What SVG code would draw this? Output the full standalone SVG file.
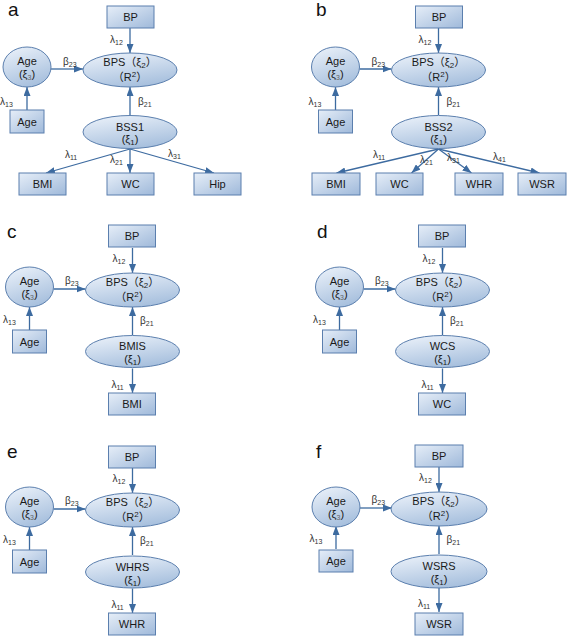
<svg xmlns="http://www.w3.org/2000/svg" width="567" height="638" viewBox="0 0 567 638">
<defs>
  <linearGradient id="gBox" x1="0" y1="0" x2="1" y2="1">
    <stop offset="0" stop-color="#e6eef8"/>
    <stop offset="1" stop-color="#9fb9da"/>
  </linearGradient>
  <linearGradient id="gEll" x1="0.2" y1="0" x2="0.6" y2="1">
    <stop offset="0" stop-color="#e9f0f9"/>
    <stop offset="1" stop-color="#a6bfdd"/>
  </linearGradient>
  <marker id="arr" markerUnits="userSpaceOnUse" markerWidth="9" markerHeight="7" viewBox="0 0 9 7" refX="9" refY="3.5" orient="auto">
    <path d="M0,0 L9,3.5 L0,7 Z" fill="#3d6ba0"/>
  </marker>
</defs>
<style>
  .box { fill:url(#gBox); stroke:#5b7fae; stroke-width:1; }
  .ell { fill:url(#gEll); stroke:#5b7fae; stroke-width:1; }
  text { font-family:"Liberation Sans","Noto Sans CJK SC",sans-serif; }
  .t { font-size:11px; fill:#1a1a1a; text-anchor:middle; }
  .lab { font-size:10px; fill:#333; }
  .pl { font-size:19px; fill:#111; }
  .conn line { stroke:#3d6ba0; stroke-width:1.3; marker-end:url(#arr); }
</style>
<rect width="567" height="638" fill="#ffffff"/>

<text class="pl" x="8" y="16">a</text>
<text class="pl" x="316" y="16">b</text>
<text class="pl" x="7" y="238">c</text>
<text class="pl" x="317" y="238">d</text>
<text class="pl" x="7" y="458">e</text>
<text class="pl" x="316" y="458">f</text>

<!-- Panel a -->
<g id="panel-a">
  <g id="a-connectors" class="conn">
    <line x1="130" y1="28" x2="130" y2="53"/>
    <line x1="51" y1="69" x2="83" y2="69"/>
    <line x1="27" y1="110" x2="27" y2="87"/>
    <line x1="130" y1="115" x2="130" y2="87"/>
    <line x1="130" y1="149" x2="46" y2="173"/>
    <line x1="130" y1="149" x2="130" y2="173"/>
    <line x1="130" y1="149" x2="214" y2="173"/>
  </g>
  <g id="a-labels">
    <text class="lab" x="110" y="43">λ<tspan font-size="7" dy="2">12</tspan></text>
    <text class="lab" x="63" y="65">β<tspan font-size="7" dy="2">23</tspan></text>
    <text class="lab" x="0" y="105">λ<tspan font-size="7" dy="2">13</tspan></text>
    <text class="lab" x="138" y="105">β<tspan font-size="7" dy="2">21</tspan></text>
    <text class="lab" x="65" y="158">λ<tspan font-size="7" dy="2">11</tspan></text>
    <text class="lab" x="110" y="163">λ<tspan font-size="7" dy="2">21</tspan></text>
    <text class="lab" x="168" y="157">λ<tspan font-size="7" dy="2">31</tspan></text>
  </g>
  <g id="a-BP"><rect class="box" x="107" y="6" width="47" height="22"/><text class="t" x="130.5" y="21">BP</text></g>
  <g id="a-BPS"><ellipse class="ell" cx="130" cy="70" rx="47" ry="17"/><text class="t" x="130" y="66">BPS（ξ<tspan font-size="8" dy="2">2</tspan><tspan dy="-2">）</tspan></text><text class="t" x="130" y="81">（R<tspan font-size="8" dy="-4">2</tspan><tspan dy="4">）</tspan></text></g>
  <g id="a-AgeLatent"><ellipse class="ell" cx="27" cy="67" rx="24" ry="20"/><text class="t" x="27" y="65">Age</text><text class="t" x="27" y="78">(ξ<tspan font-size="7" dy="2" fill="#666">3</tspan><tspan dy="-2">)</tspan></text></g>
  <g id="a-Age"><rect class="box" x="10" y="110" width="34" height="23"/><text class="t" x="27" y="125.5">Age</text></g>
  <g id="a-BSS1"><ellipse class="ell" cx="130" cy="132" rx="47" ry="16.5"/><text class="t" x="130" y="131">BSS1</text><text class="t" x="130" y="143">(ξ<tspan font-size="8" dy="2">1</tspan><tspan dy="-2">)</tspan></text></g>
  <g id="a-BMI"><rect class="box" x="19" y="173" width="47" height="22"/><text class="t" x="42.5" y="188">BMI</text></g>
  <g id="a-WC"><rect class="box" x="107" y="173" width="47" height="22"/><text class="t" x="130.5" y="188">WC</text></g>
  <g id="a-Hip"><rect class="box" x="194" y="173" width="47" height="22"/><text class="t" x="217.5" y="188">Hip</text></g>
</g>

<!-- Panel b -->
<g id="panel-b" transform="translate(308.5,0)">
  <g id="b-connectors" class="conn">
    <line x1="130" y1="28" x2="130" y2="53"/>
    <line x1="51" y1="69" x2="83" y2="69"/>
    <line x1="27" y1="110" x2="27" y2="87"/>
    <line x1="130" y1="115" x2="130" y2="87"/>
    <line x1="130" y1="149" x2="28" y2="173"/>
    <line x1="130" y1="149" x2="103" y2="173"/>
    <line x1="130" y1="149" x2="163" y2="173"/>
    <line x1="130" y1="149" x2="231" y2="173"/>
  </g>
  <g id="b-labels">
    <text class="lab" x="110" y="43">λ<tspan font-size="7" dy="2">12</tspan></text>
    <text class="lab" x="63" y="65">β<tspan font-size="7" dy="2">23</tspan></text>
    <text class="lab" x="0" y="105">λ<tspan font-size="7" dy="2">13</tspan></text>
    <text class="lab" x="138" y="105">β<tspan font-size="7" dy="2">21</tspan></text>
    <text class="lab" x="64.5" y="158">λ<tspan font-size="7" dy="2">11</tspan></text>
    <text class="lab" x="111.5" y="163">λ<tspan font-size="7" dy="2">21</tspan></text>
    <text class="lab" x="138.5" y="161">λ<tspan font-size="7" dy="2">31</tspan></text>
    <text class="lab" x="184.5" y="160">λ<tspan font-size="7" dy="2">41</tspan></text>
  </g>
  <g id="b-BP"><rect class="box" x="107" y="6" width="47" height="22"/><text class="t" x="130.5" y="21">BP</text></g>
  <g id="b-BPS"><ellipse class="ell" cx="130" cy="70" rx="47" ry="17"/><text class="t" x="130" y="66">BPS（ξ<tspan font-size="8" dy="2">2</tspan><tspan dy="-2">）</tspan></text><text class="t" x="130" y="81">（R<tspan font-size="8" dy="-4">2</tspan><tspan dy="4">）</tspan></text></g>
  <g id="b-AgeLatent"><ellipse class="ell" cx="27" cy="67" rx="24" ry="20"/><text class="t" x="27" y="65">Age</text><text class="t" x="27" y="78">(ξ<tspan font-size="7" dy="2" fill="#666">3</tspan><tspan dy="-2">)</tspan></text></g>
  <g id="b-Age"><rect class="box" x="10" y="110" width="34" height="23"/><text class="t" x="27" y="125.5">Age</text></g>
  <g id="b-BSS2"><ellipse class="ell" cx="130" cy="132" rx="47" ry="16.5"/><text class="t" x="130" y="131">BSS2</text><text class="t" x="130" y="143">(ξ<tspan font-size="8" dy="2">1</tspan><tspan dy="-2">)</tspan></text></g>
  <g id="b-BMI"><rect class="box" x="3.5" y="173" width="48" height="22"/><text class="t" x="27.5" y="188">BMI</text></g>
  <g id="b-WC"><rect class="box" x="67.5" y="173" width="47" height="22"/><text class="t" x="91" y="188">WC</text></g>
  <g id="b-WHR"><rect class="box" x="146.5" y="173" width="48" height="22"/><text class="t" x="170.5" y="188">WHR</text></g>
  <g id="b-WSR"><rect class="box" x="209.5" y="173" width="48" height="22"/><text class="t" x="233.5" y="188">WSR</text></g>
</g>

<!-- Panel c -->
<g id="panel-c" transform="translate(2.5,220)">
  <g id="c-connectors" class="conn">
    <line x1="130" y1="28" x2="130" y2="53"/>
    <line x1="51" y1="69" x2="83" y2="69"/>
    <line x1="27" y1="110" x2="27" y2="87"/>
    <line x1="130" y1="115" x2="130" y2="87"/>
    <line x1="130" y1="148.5" x2="130" y2="173"/>
  </g>
  <g id="c-labels">
    <text class="lab" x="110" y="42">λ<tspan font-size="7" dy="2">12</tspan></text>
    <text class="lab" x="62.5" y="64">β<tspan font-size="7" dy="2">23</tspan></text>
    <text class="lab" x="0.5" y="103">λ<tspan font-size="7" dy="2">13</tspan></text>
    <text class="lab" x="137.5" y="104">β<tspan font-size="7" dy="2">21</tspan></text>
    <text class="lab" x="109" y="168">λ<tspan font-size="7" dy="2">11</tspan></text>
  </g>
  <g id="c-BP"><rect class="box" x="106" y="5" width="47" height="22"/><text class="t" x="129.5" y="20">BP</text></g>
  <g id="c-BPS"><ellipse class="ell" cx="130" cy="70" rx="47" ry="17"/><text class="t" x="130" y="66">BPS（ξ<tspan font-size="8" dy="2">2</tspan><tspan dy="-2">）</tspan></text><text class="t" x="130" y="81">（R<tspan font-size="8" dy="-4">2</tspan><tspan dy="4">）</tspan></text></g>
  <g id="c-AgeLatent"><ellipse class="ell" cx="27" cy="67" rx="24" ry="20"/><text class="t" x="27" y="65">Age</text><text class="t" x="27" y="78">(ξ<tspan font-size="7" dy="2" fill="#666">3</tspan><tspan dy="-2">)</tspan></text></g>
  <g id="c-Age"><rect class="box" x="10" y="110" width="34" height="23"/><text class="t" x="27" y="125.5">Age</text></g>
  <g id="c-BMIS"><ellipse class="ell" cx="130" cy="131.5" rx="47" ry="16"/><text class="t" x="130" y="130">BMIS</text><text class="t" x="130" y="143">(ξ<tspan font-size="8" dy="2">1</tspan><tspan dy="-2">)</tspan></text></g>
  <g id="c-BMI"><rect class="box" x="106" y="173" width="47" height="22"/><text class="t" x="129.5" y="188">BMI</text></g>
</g>

<!-- Panel d -->
<g id="panel-d" transform="translate(312.5,220)">
  <g id="d-connectors" class="conn">
    <line x1="130" y1="28" x2="130" y2="53"/>
    <line x1="51" y1="69" x2="83" y2="69"/>
    <line x1="27" y1="110" x2="27" y2="87"/>
    <line x1="130" y1="115" x2="130" y2="87"/>
    <line x1="130" y1="148.5" x2="130" y2="173"/>
  </g>
  <g id="d-labels">
    <text class="lab" x="110" y="42">λ<tspan font-size="7" dy="2">12</tspan></text>
    <text class="lab" x="62.5" y="64">β<tspan font-size="7" dy="2">23</tspan></text>
    <text class="lab" x="0.5" y="103">λ<tspan font-size="7" dy="2">13</tspan></text>
    <text class="lab" x="137.5" y="104">β<tspan font-size="7" dy="2">21</tspan></text>
    <text class="lab" x="109" y="168">λ<tspan font-size="7" dy="2">11</tspan></text>
  </g>
  <g id="d-BP"><rect class="box" x="106" y="5" width="47" height="22"/><text class="t" x="129.5" y="20">BP</text></g>
  <g id="d-BPS"><ellipse class="ell" cx="130" cy="70" rx="47" ry="17"/><text class="t" x="130" y="66">BPS（ξ<tspan font-size="8" dy="2">2</tspan><tspan dy="-2">）</tspan></text><text class="t" x="130" y="81">（R<tspan font-size="8" dy="-4">2</tspan><tspan dy="4">）</tspan></text></g>
  <g id="d-AgeLatent"><ellipse class="ell" cx="27" cy="67" rx="24" ry="20"/><text class="t" x="27" y="65">Age</text><text class="t" x="27" y="78">(ξ<tspan font-size="7" dy="2" fill="#666">3</tspan><tspan dy="-2">)</tspan></text></g>
  <g id="d-Age"><rect class="box" x="10" y="110" width="34" height="23"/><text class="t" x="27" y="125.5">Age</text></g>
  <g id="d-WCS"><ellipse class="ell" cx="130" cy="131.5" rx="47" ry="16"/><text class="t" x="130" y="130">WCS</text><text class="t" x="130" y="143">(ξ<tspan font-size="8" dy="2">1</tspan><tspan dy="-2">)</tspan></text></g>
  <g id="d-WC"><rect class="box" x="106" y="173" width="47" height="22"/><text class="t" x="129.5" y="188">WC</text></g>
</g>

<!-- Panel e -->
<g id="panel-e" transform="translate(2.5,440)">
  <g id="e-connectors" class="conn">
    <line x1="130" y1="28" x2="130" y2="53"/>
    <line x1="51" y1="69" x2="83" y2="69"/>
    <line x1="27" y1="110" x2="27" y2="87"/>
    <line x1="130" y1="115" x2="130" y2="87"/>
    <line x1="130" y1="148.5" x2="130" y2="173"/>
  </g>
  <g id="e-labels">
    <text class="lab" x="110" y="42">λ<tspan font-size="7" dy="2">12</tspan></text>
    <text class="lab" x="62.5" y="64">β<tspan font-size="7" dy="2">23</tspan></text>
    <text class="lab" x="0.5" y="103">λ<tspan font-size="7" dy="2">13</tspan></text>
    <text class="lab" x="137.5" y="104">β<tspan font-size="7" dy="2">21</tspan></text>
    <text class="lab" x="109" y="168">λ<tspan font-size="7" dy="2">11</tspan></text>
  </g>
  <g id="e-BP"><rect class="box" x="106" y="6" width="47" height="22"/><text class="t" x="129.5" y="21">BP</text></g>
  <g id="e-BPS"><ellipse class="ell" cx="130" cy="70" rx="47" ry="17"/><text class="t" x="130" y="66">BPS（ξ<tspan font-size="8" dy="2">2</tspan><tspan dy="-2">）</tspan></text><text class="t" x="130" y="81">（R<tspan font-size="8" dy="-4">2</tspan><tspan dy="4">）</tspan></text></g>
  <g id="e-AgeLatent"><ellipse class="ell" cx="27" cy="67" rx="24" ry="20"/><text class="t" x="27" y="65">Age</text><text class="t" x="27" y="78">(ξ<tspan font-size="7" dy="2" fill="#666">3</tspan><tspan dy="-2">)</tspan></text></g>
  <g id="e-Age"><rect class="box" x="10" y="110" width="34" height="23"/><text class="t" x="27" y="125.5">Age</text></g>
  <g id="e-WHRS"><ellipse class="ell" cx="130" cy="132" rx="47" ry="16"/><text class="t" x="130" y="130.5">WHRS</text><text class="t" x="130" y="143.5">(ξ<tspan font-size="8" dy="2">1</tspan><tspan dy="-2">)</tspan></text></g>
  <g id="e-WHR"><rect class="box" x="106" y="173" width="47" height="22"/><text class="t" x="129.5" y="188">WHR</text></g>
</g>

<!-- Panel f -->
<g id="panel-f" transform="translate(309,439)">
  <g id="f-connectors" class="conn">
    <line x1="130" y1="28" x2="130" y2="53"/>
    <line x1="51" y1="69" x2="83" y2="69"/>
    <line x1="27" y1="110" x2="27" y2="87"/>
    <line x1="130" y1="115" x2="130" y2="87"/>
    <line x1="130" y1="148.5" x2="130" y2="173"/>
  </g>
  <g id="f-labels">
    <text class="lab" x="110" y="42">λ<tspan font-size="7" dy="2">12</tspan></text>
    <text class="lab" x="62.5" y="64">β<tspan font-size="7" dy="2">23</tspan></text>
    <text class="lab" x="0.5" y="103">λ<tspan font-size="7" dy="2">13</tspan></text>
    <text class="lab" x="137.5" y="104">β<tspan font-size="7" dy="2">21</tspan></text>
    <text class="lab" x="109" y="168">λ<tspan font-size="7" dy="2">11</tspan></text>
  </g>
  <g id="f-BP"><rect class="box" x="106" y="6" width="48" height="22"/><text class="t" x="130" y="21">BP</text></g>
  <g id="f-BPS"><ellipse class="ell" cx="130" cy="70" rx="48" ry="17"/><text class="t" x="130" y="66">BPS（ξ<tspan font-size="8" dy="2">2</tspan><tspan dy="-2">）</tspan></text><text class="t" x="130" y="81">（R<tspan font-size="8" dy="-4">2</tspan><tspan dy="4">）</tspan></text></g>
  <g id="f-AgeLatent"><ellipse class="ell" cx="27" cy="68" rx="24" ry="20"/><text class="t" x="27" y="66">Age</text><text class="t" x="27" y="79">(ξ<tspan font-size="7" dy="2" fill="#666">3</tspan><tspan dy="-2">)</tspan></text></g>
  <g id="f-Age"><rect class="box" x="10" y="111" width="34" height="22"/><text class="t" x="27" y="126">Age</text></g>
  <g id="f-WSRS"><ellipse class="ell" cx="130" cy="132.5" rx="48" ry="16.5"/><text class="t" x="130" y="131">WSRS</text><text class="t" x="130" y="144">(ξ<tspan font-size="8" dy="2">1</tspan><tspan dy="-2">)</tspan></text></g>
  <g id="f-WSR"><rect class="box" x="106" y="174" width="48" height="22"/><text class="t" x="130" y="189">WSR</text></g>
</g>
</svg>
